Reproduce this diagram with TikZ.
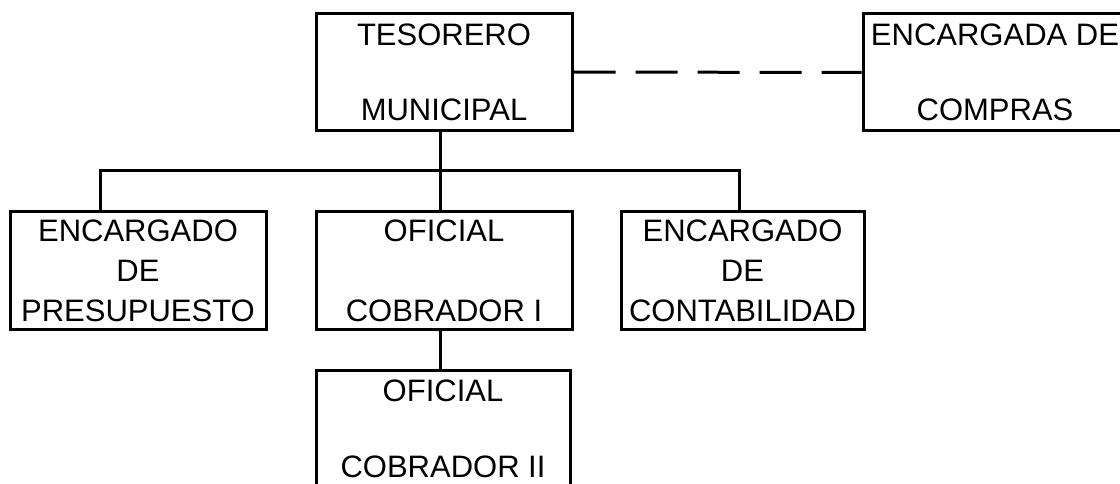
\documentclass[tikz,border=0pt]{standalone}
\usepackage{fontspec}
\setmainfont{Liberation Sans}
\tikzset{
  puesto/.style={draw, line width=3pt, align=center, inner sep=0pt,
    minimum height=117pt, font=\fontsize{31}{40}\selectfont},
  enlace/.style={line width=3pt}
}
\begin{document}
\begin{tikzpicture}[x=1pt,y=-1pt]
  \clip (0,0) rectangle (1120,484);
  \node[puesto, minimum width=256pt] (tesorero) at (444,72) {TESORERO\\[35pt]MUNICIPAL};
  \node[puesto, minimum width=264pt] (compras) at (995,72.5) {ENCARGADA DE\\[35pt]COMPRAS};
  \node[puesto, minimum width=256pt] (presupuesto) at (138,270.5) {ENCARGADO\\DE\\PRESUPUESTO};
  \node[puesto, minimum width=256pt] (oficialA) at (444,270.5) {OFICIAL\\[40pt]COBRADOR I};
  \node[puesto, minimum width=243pt] (contabilidad) at (742.5,270.5) {ENCARGADO\\DE\\CONTABILIDAD};
  \node[puesto, minimum width=254pt, minimum height=118pt] (oficialB) at (443,429) {OFICIAL\\[36pt]COBRADOR II};
  \coordinate (eje) at (440,0);
  \coordinate (busL) at (100,171);
  \coordinate (busR) at (739,171);
  \draw[enlace] (busL |- presupuesto.north) -- (busL) -- (busR) -- (busR |- contabilidad.north);
  \draw[enlace] (eje |- tesorero.south) -- (eje |- oficialA.north);
  \draw[enlace] (eje |- oficialA.south) -- (eje |- oficialB.north);
  \draw[enlace, dash pattern=on 42pt off 20pt] (tesorero.east) -- (compras.west);
\end{tikzpicture}
\end{document}
